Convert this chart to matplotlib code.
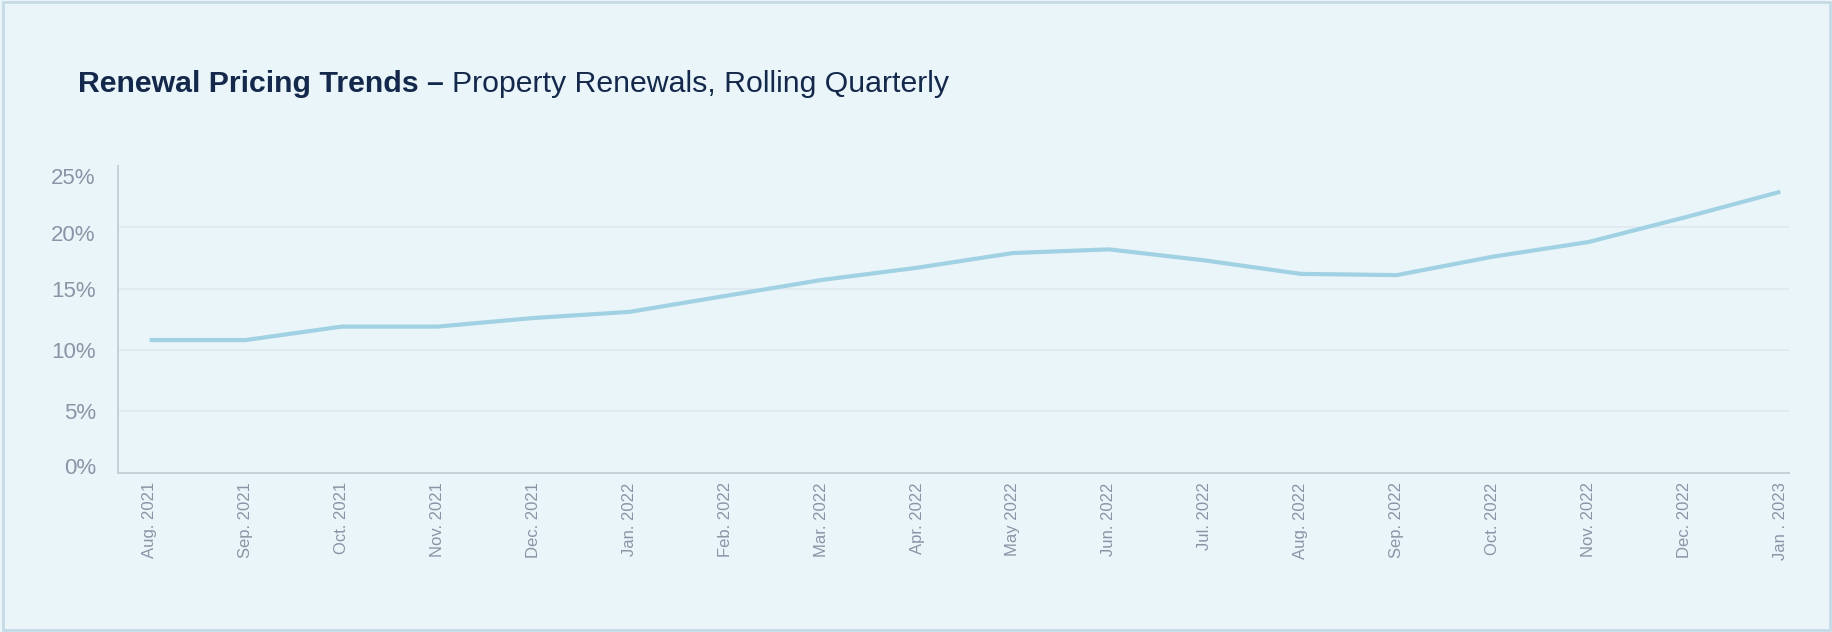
import matplotlib
matplotlib.use("Agg")
import matplotlib.pyplot as plt
from matplotlib.patches import Rectangle
from matplotlib.ticker import FuncFormatter
from matplotlib.transforms import ScaledTranslation

# Monthly rolling-quarter renewal pricing change (%)
months = ["Aug. 2021", "Sep. 2021", "Oct. 2021", "Nov. 2021", "Dec. 2021",
          "Jan. 2022", "Feb. 2022", "Mar. 2022", "Apr. 2022", "May 2022",
          "Jun. 2022", "Jul. 2022", "Aug. 2022", "Sep. 2022", "Oct. 2022",
          "Nov. 2022", "Dec. 2022", "Jan . 2023"]
property_renewals = [10.8, 10.8, 11.9, 11.9, 12.6, 13.1, 14.4, 15.7, 16.7,
                     17.9, 18.2, 17.3, 16.2, 16.1, 17.6, 18.8, 20.8, 22.9]
y_ticks = [0, 5, 10, 15, 20, 25]

BG = "#eaf5fa"
LINE = "#a1d2e3"
LABEL = "#8a94a6"
NAVY = "#14284b"
AXIS = "#c6cfd8"
GRID = "#dde9ef"

W, H, DPI = 1833, 632, 100
fig = plt.figure(figsize=(W / DPI, H / DPI), dpi=DPI, facecolor=BG)
ax = fig.add_axes([118 / W, 1 - 472.5 / H, (1789 - 118) / W, (472.5 - 166) / H])
ax.set_facecolor(BG)

x = list(range(len(months)))
ax.plot(x, property_renewals, color=LINE, lw=3.0, solid_joinstyle="round",
        solid_capstyle="butt", zorder=3)

ax.set_xlim(-0.33, len(months) - 1 + 0.09)
ax.set_ylim(0, 25)
ax.set_yticks(y_ticks)
ax.yaxis.set_major_formatter(FuncFormatter(lambda v, _: f"{v:.0f}%"))
ax.set_xticks(x)
ax.set_xticklabels(months, rotation=90)

for yv in y_ticks[1:-1]:
    ax.axhline(yv, color=GRID, lw=1.1, zorder=1)

for side in ("top", "right"):
    ax.spines[side].set_visible(False)
for side in ("left", "bottom"):
    ax.spines[side].set_color(AXIS)
    ax.spines[side].set_linewidth(1.4)

tick_font = ["Liberation Sans", "DejaVu Sans"]
ax.tick_params(axis="y", length=0, pad=16, labelsize=16, labelcolor=LABEL)
ax.tick_params(axis="x", length=0, pad=7, labelsize=12, labelcolor=LABEL)
for lbl in ax.get_xticklabels() + ax.get_yticklabels():
    lbl.set_family(tick_font)

# nudge the outer y labels so they sit inside the plotting band
fig.canvas.draw()
nudges = {25: -10, 20: -6, 0: 7}
for val, lbl in zip(y_ticks, ax.get_yticklabels()):
    if val in nudges:
        lbl.set_transform(lbl.get_transform() +
                          ScaledTranslation(0, nudges[val] / DPI, fig.dpi_scale_trans))

# Two-weight title
title_font = ["Liberation Sans", "DejaVu Sans"]
t1 = fig.text(78 / W, 1 - 92 / H, "Renewal Pricing Trends \u2013 ", family=title_font,
              fontsize=21.8, fontweight="bold", color=NAVY, va="baseline", ha="left")
fig.canvas.draw()
bb = t1.get_window_extent(renderer=fig.canvas.get_renderer())
fig.text(bb.x1 / W, 1 - 92 / H, "Property Renewals, Rolling Quarterly",
         family=title_font, fontsize=21.8, color=NAVY, va="baseline", ha="left")

# Thin frame around the card
fig.patches.append(Rectangle((0.0015, 0.003), 0.997, 0.994, transform=fig.transFigure,
                             fill=False, edgecolor="#c4dbe5", lw=2))

fig.savefig("out.png", dpi=DPI, facecolor=BG)
